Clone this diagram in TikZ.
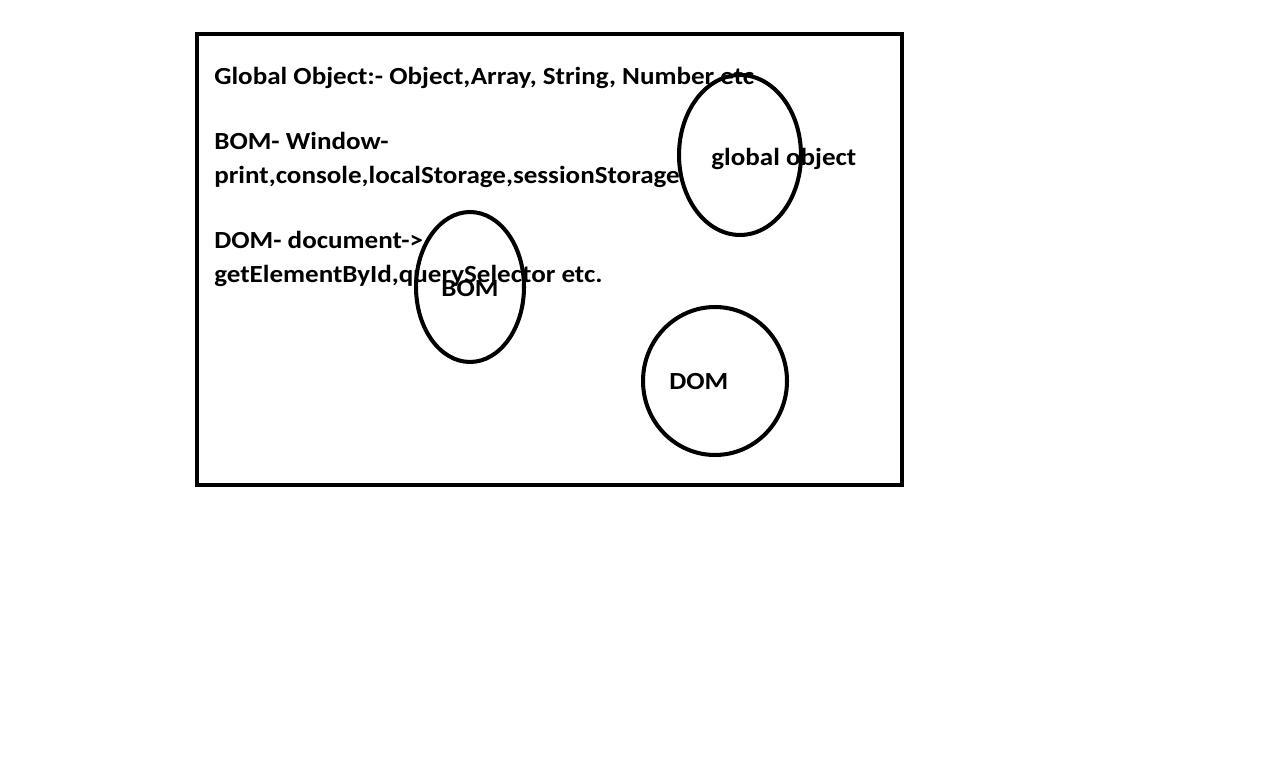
\documentclass[tikz,border=0pt]{standalone}
\usepackage{fontspec}
\setmainfont{Carlito}[FakeStretch=1.1]
\usetikzlibrary{shapes.geometric}

\begin{document}
\begin{tikzpicture}[x=0.02cm,y=-0.02cm,
    txt/.style={inner sep=0pt, anchor=base west, font=\fontsize{14}{16}\selectfont\bfseries},
    ring/.style={draw, ellipse, line width=2.3pt, inner sep=0pt}]
    \useasboundingbox (0,0) rectangle (1274,773);
    % Rahmen:
    \draw[line width=2.5pt] (197,34) rectangle (902,485);
    % Kreise:
    \node[ring, minimum width=2.44cm, minimum height=3.2cm] (gring) at (740,155) {};
    \node[ring, minimum width=2.16cm, minimum height=3cm] (bring) at (470,287) {};
    \node[ring, minimum width=2.88cm, minimum height=2.96cm] (dring) at (715,381) {};
    % Texte links:
    \node[txt] (gline) at (214,85) {Global Object:- Object,Array, String, Number etc};
    \node[txt] (bline1) at (214,150) {BOM- Window-};
    \node[txt] (bline2) at (214,184) {print,console,localStorage,sessionStorage};
    \node[txt] (dline1) at (214,249) {DOM- document->};
    \node[txt] (dline2) at (214,283) {getElementById,querySelector etc.};
    % Texte in den Kreisen:
    \node[txt] (glabel) at (711,166) {global object};
    \node[txt] (blabel) at (441,297) {BOM};
    \node[txt] (dlabel) at (669,389) {DOM};
\end{tikzpicture}
\end{document}
